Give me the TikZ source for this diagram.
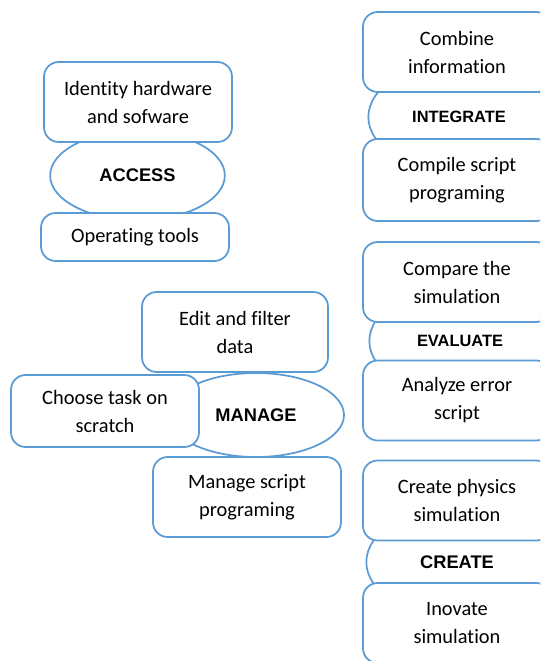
\documentclass[tikz,border=0pt]{standalone}
\usepackage{fontspec}
\setmainfont{Carlito}[Ligatures=NoCommon]
\newfontfamily\headfont{Liberation Sans}
\usetikzlibrary{shapes,positioning}
\definecolor{boxblue}{RGB}{91,155,213}
\tikzstyle{Tbox}=[shape=rectangle,rounded corners=11pt,draw=boxblue,line width=1.3pt,fill=white,minimum width=141pt,minimum height=60pt,inner sep=0pt,align=center,font=\fontsize{15.3}{21}\selectfont]
\tikzstyle{Phase}=[shape=ellipse,draw=boxblue,line width=1.3pt,fill=white,inner sep=0pt,minimum width=136pt,minimum height=82pt,font=\headfont\bfseries\fontsize{13.7}{16}\selectfont]
\tikzstyle{smallphase}=[font=\headfont\bfseries\fontsize{12.3}{15}\selectfont]

\begin{document}
\begin{tikzpicture}[x=0.75pt,y=-0.75pt]
\useasboundingbox (0,0) rectangle (540,661);
\clip (0,0) rectangle (540,661);

% phases first, boxes are laid on top
\node[Phase,minimum width=131pt,minimum height=67pt] (ACC) at (137.5,175.5){ACCESS};
\node[Phase,smallphase] (INT) at (459,117){INTEGRATE};
\node[Phase,smallphase] (EVA) at (460,341){EVALUATE};
\node[Phase] (CRE) at (457,562){CREATE};
\node[Phase,minimum width=132pt,minimum height=63pt] (MAN) at (256,415){MANAGE};

% access
\node[Tbox] (ID) at (138,102){Identity hardware\\and sofware};
\node[Tbox,minimum height=36pt] (OP) at (135,237){Operating tools};

% integrate
\node[Tbox] (CMB) at (457,52){Combine\\information};
\node[Tbox,minimum height=61.5pt] (CMP) at (457,180){Compile script\\programing};

% evaluate
\node[Tbox] (CPR) at (457,282){Compare the\\simulation};
\node[Tbox] (ANL) at (457,400.5){Analyze error\\script};

% create
\node[Tbox] (CPH) at (457,500.5){Create physics\\simulation};
\node[Tbox] (INV) at (457,623){Inovate\\simulation};

% manage
\node[Tbox,minimum width=139.5pt] (EDT) at (235,332){Edit and filter\\data};
\node[Tbox,minimum height=54pt] (CHS) at (105,411){Choose task on\\scratch};
\node[Tbox] (MSP) at (247,497){Manage script\\programing};

\end{tikzpicture}
\end{document}
